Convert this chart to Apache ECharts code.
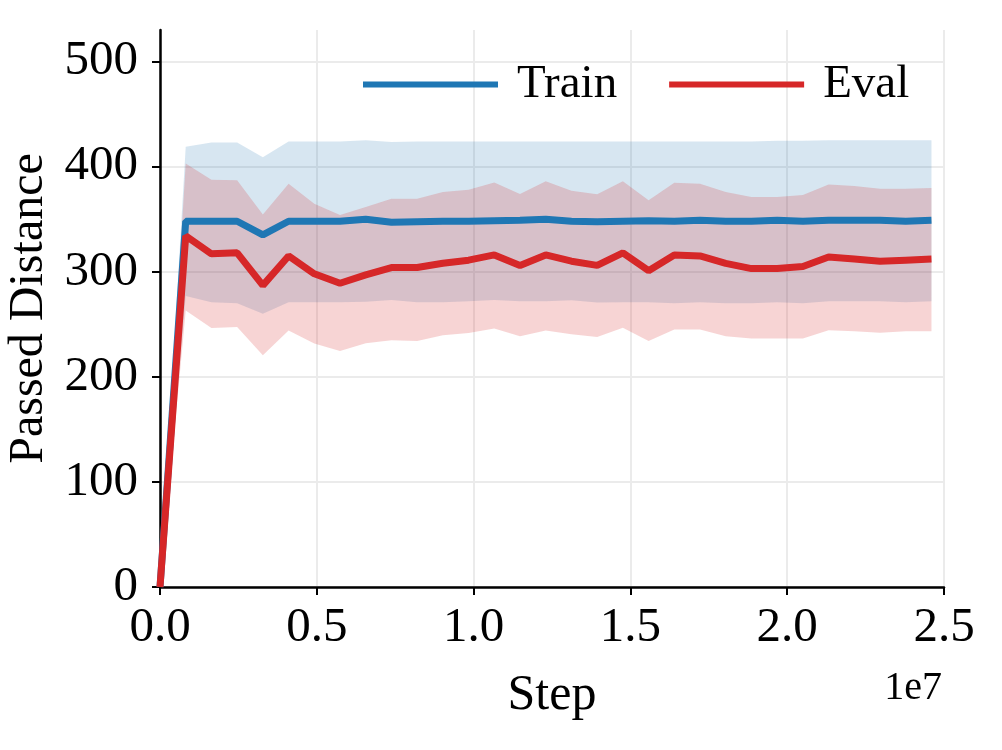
<!DOCTYPE html>
<html>
<head>
<meta charset="utf-8">
<script src="https://cdn.jsdelivr.net/npm/echarts@6/dist/echarts.min.js"></script>
<style>
  html, body { margin: 0; padding: 0; background: #fff; }
  #chart { width: 1002px; height: 750px; }
</style>
</head>
<body>
<div id="chart"></div>
<script>
// step index -> environment steps (one eval every ~8.2e5 steps)
const stepSize = 820000;

const trainMean = [0, 348, 348, 348, 335, 348, 348, 348, 350, 347, 347.5, 348, 348, 348.5, 349, 350,
  348, 347.5, 348, 348.5, 348, 349, 348, 348, 349, 348, 349, 349, 349, 348, 349];
const trainLow = [0, 277, 271, 270, 260, 271, 271, 271, 271.5, 273, 271, 271, 272, 273, 272, 272,
  272.8, 270.8, 271, 271, 270, 271, 270, 270, 271, 270, 271.8, 272, 271.8, 271, 272];
const trainHigh = [0, 419, 423, 423, 409, 424, 424, 424, 425, 423.5, 424, 424, 424, 424, 424, 424,
  424, 424, 424, 424, 424, 424, 424, 424, 424.5, 424.5, 425, 425, 425, 425, 425];

const evalMean = [0, 334, 317, 318, 287, 315, 298, 289, 297, 304, 304, 308, 311, 316, 306, 316,
  310, 306, 318, 301, 316, 315, 308, 303, 303, 305, 314, 312, 310, 311, 312];
const evalLow = [0, 263, 246.5, 247.4, 220.5, 244, 231.6, 224.6, 232, 234.8, 234, 239.5, 241.7, 245.9, 238.6, 244,
  240.5, 238, 246.8, 234, 245, 245, 238.6, 236.4, 236.4, 236.4, 244.3, 243.3, 242, 243.3, 243.3];
const evalHigh = [0, 403, 387.5, 387, 354.5, 383.7, 364.7, 354, 361.5, 369.5, 369.5, 375.8, 378, 385, 374, 386,
  377, 373.6, 386, 368, 384.6, 383.7, 375.8, 371, 371, 373, 383, 381.5, 379, 379, 379.6];

const yTicks = [0, 100, 200, 300, 400, 500];

const steps = trainMean.map((_, i) => i * stepSize);
const pairs = (arr) => arr.map((v, i) => [steps[i], v]);

const blue = '#1f77b4';
const red = '#d62728';
const font = '"Liberation Serif", "DejaVu Serif", serif';

// shaded min/max band drawn as one polygon through the axes
function band(name, lo, hi, fill, z) {
  return {
    name: name,
    type: 'custom',
    silent: true,
    z: z,
    data: [[0, 0]],
    renderItem: (params, api) => {
      const pts = [];
      for (let i = 0; i < hi.length; i++) pts.push(api.coord([steps[i], hi[i]]));
      for (let i = lo.length - 1; i >= 0; i--) pts.push(api.coord([steps[i], lo[i]]));
      return { type: 'polygon', shape: { points: pts }, style: { fill: fill } };
    },
  };
}

const chart = echarts.init(document.getElementById('chart'));

chart.setOption({
  animation: false,
  textStyle: { fontFamily: font, color: '#000' },
  grid: { left: 160, right: 58, top: 30, bottom: 163, outerBoundsMode: 'none' },
  legend: {
    data: ['Train', 'Eval'],
    left: 363,
    top: 61,
    padding: 0,
    icon: 'rect',
    itemWidth: 135,
    itemHeight: 6,
    itemGap: 52,
    textStyle: { fontSize: 47, fontFamily: font, color: '#000', padding: [0, 0, 0, 14] },
  },
  xAxis: {
    type: 'value',
    min: 0,
    max: 2.5e7,
    interval: 5e6,
    name: 'Step',
    nameLocation: 'middle',
    nameGap: 84,
    nameTextStyle: { fontSize: 50, fontFamily: font, color: '#000' },
    axisLine: { lineStyle: { color: '#000', width: 2.5 } },
    axisTick: { show: true, length: 8, lineStyle: { color: '#000', width: 2 } },
    axisLabel: {
      fontSize: 49, fontFamily: font, color: '#000', margin: 17,
      formatter: (v) => (v / 1e7).toFixed(1),
    },
    splitLine: { show: true, lineStyle: { color: '#ebebeb', width: 2 } },
  },
  yAxis: {
    type: 'value',
    min: 0,
    max: 530,
    interval: 100,
    name: 'Passed Distance',
    nameLocation: 'middle',
    nameGap: 106,
    nameTextStyle: { fontSize: 48, fontFamily: font, color: '#000' },
    axisLine: { show: true, lineStyle: { color: '#000', width: 2.5 } },
    axisTick: { show: true, length: 8, customValues: yTicks, lineStyle: { color: '#000', width: 2 } },
    axisLabel: { fontSize: 49, fontFamily: font, color: '#000', margin: 22, customValues: yTicks },
    splitLine: { show: true, lineStyle: { color: '#ebebeb', width: 2 } },
  },
  graphic: [
    {
      type: 'text',
      right: 60,
      top: 668,
      style: { text: '1e7', font: '40px ' + font, fill: '#000' },
    },
  ],
  series: [
    band('trainBand', trainLow, trainHigh, 'rgba(31,119,180,0.18)', 1),
    band('evalBand', evalLow, evalHigh, 'rgba(214,39,40,0.2)', 2),
    {
      name: 'Train', type: 'line', data: pairs(trainMean), symbol: 'none',
      itemStyle: { color: blue }, lineStyle: { color: blue, width: 7 }, z: 3,
    },
    {
      name: 'Eval', type: 'line', data: pairs(evalMean), symbol: 'none',
      itemStyle: { color: red }, lineStyle: { color: red, width: 7 }, z: 4,
    },
  ],
});
</script>
</body>
</html>
